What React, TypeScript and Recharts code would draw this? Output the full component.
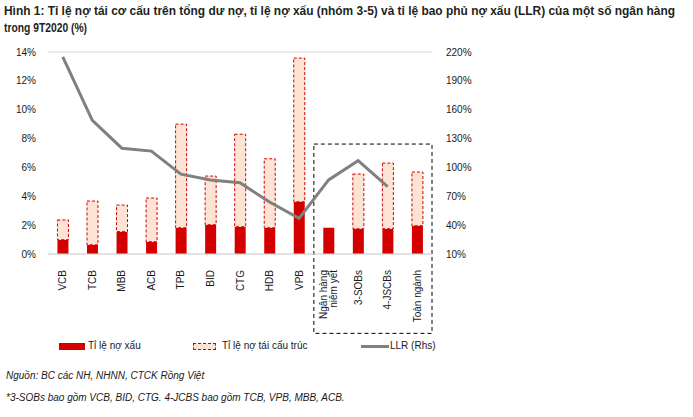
import React from "react";
import {
  ComposedChart,
  Bar,
  Line,
  XAxis,
  YAxis,
  CartesianGrid,
  ReferenceArea,
} from "recharts";

const banks = [
  "VCB", "TCB", "MBB", "ACB", "TPB", "BID", "CTG", "HDB", "VPB",
  "Ngân hàng\nniêm yết", "3-SOBs", "4-JSCBs", "Toàn ngành",
];
// tỉ lệ nợ xấu (%)
const nplRatio = [0.99, 0.64, 1.55, 0.85, 1.82, 2.03, 1.89, 1.82, 3.62, 1.82, 1.75, 1.75, 1.96];
// tỉ lệ nợ tái cấu trúc, phần chồng lên nợ xấu (%)
const restructuredRatio = [1.37, 3.03, 1.84, 3.03, 7.18, 3.37, 6.41, 4.78, 9.96, 0, 3.79, 4.55, 3.72];
// LLR (%), trục phải
const llr = [215, 149, 120, 117, 93, 87, 84, 64, 47, 87, 107, 80, null];

const leftTicks = [0, 2, 4, 6, 8, 10, 12, 14];
const rightTicks = [10, 40, 70, 100, 130, 160, 190, 220];

const chartData = banks.map((name, i) => ({
  name,
  npl: nplRatio[i],
  restructured: restructuredRatio[i],
  llr: llr[i],
}));

const FONT = "'Liberation Sans', Arial, sans-serif";

const BankTick = (props: any) => {
  const { x, y, payload } = props;
  const lines: string[] = String(payload.value).split("\n");
  const lineH = 10;
  const start = -((lines.length - 1) * lineH) / 2;
  return (
    <g transform={`translate(${x},${y + 8}) rotate(-90)`}>
      {lines.map((l, i) => (
        <text
          key={i}
          x={0}
          y={start + i * lineH}
          dy="0.35em"
          textAnchor="end"
          fontSize={10}
          fontFamily={FONT}
          fill="#1a1a1a"
        >
          {l}
        </text>
      ))}
    </g>
  );
};

export default function App() {
  return (
    <div style={{ position: "relative", width: 693, height: 417, background: "#fff", fontFamily: FONT }}>
      <style>{`body{margin:0}`}</style>
      <svg width={693} height={40} style={{ position: "absolute", left: 0, top: 0 }}>
        <text
          x={4}
          y={15}
          textLength={671}
          lengthAdjust="spacingAndGlyphs"
          fontFamily={FONT}
          fontWeight="bold"
          fontSize={12}
          fill="#231f20"
        >
          Hình 1: Tỉ lệ nợ tái cơ cấu trên tổng dư nợ, tỉ lệ nợ xấu (nhóm 3-5) và tỉ lệ bao phủ nợ xấu (LLR) của một số ngân hàng
        </text>
        <text
          x={4}
          y={32}
          textLength={83}
          lengthAdjust="spacingAndGlyphs"
          fontFamily={FONT}
          fontWeight="bold"
          fontSize={12}
          fill="#231f20"
        >
          trong 9T2020 (%)
        </text>
      </svg>

      <div style={{ position: "absolute", left: 0, top: 0 }}>
        <ComposedChart
          width={693}
          height={340}
          data={chartData}
          margin={{ top: 52, right: 221, bottom: 0, left: 0 }}
          barCategoryGap="32%"
        >
          <CartesianGrid vertical={false} stroke="#d9d9d9" />
          <XAxis
            dataKey="name"
            interval={0}
            height={86}
            axisLine={{ stroke: "#d9d9d9" }}
            tickLine={false}
            tick={<BankTick />}
          />
          <YAxis
            yAxisId="left"
            domain={[0, 14]}
            ticks={leftTicks}
            width={48}
            axisLine={false}
            tickLine={false}
            tickFormatter={(v) => `${v}%`}
            tick={{ fontSize: 10, fill: "#1a1a1a", fontFamily: FONT }}
            tickMargin={6}
          />
          <YAxis
            yAxisId="right"
            orientation="right"
            domain={[10, 220]}
            ticks={rightTicks}
            width={40}
            axisLine={false}
            tickLine={false}
            tickFormatter={(v) => `${v}%`}
            tick={{ fontSize: 10, fill: "#1a1a1a", fontFamily: FONT }}
            tickMargin={8}
          />
          <Bar yAxisId="left" dataKey="npl" stackId="a" fill="#d40000" isAnimationActive={false} />
          <Bar
            yAxisId="left"
            dataKey="restructured"
            stackId="a"
            fill="#fde3d4"
            stroke="#d40000"
            strokeWidth={1}
            strokeDasharray="3 2"
            isAnimationActive={false}
          />
          <Line
            yAxisId="right"
            type="linear"
            dataKey="llr"
            stroke="#808080"
            strokeWidth={3}
            dot={false}
            isAnimationActive={false}
          />
          <ReferenceArea
            yAxisId="left"
            x1={banks[9]}
            x2={banks[12]}
            y1={-5.5}
            y2={7.62}
            ifOverflow="visible"
            fill="none"
            fillOpacity={0}
            stroke="#000"
            strokeWidth={1}
            strokeDasharray="4 3"
          />
        </ComposedChart>
      </div>

      {/* chú thích */}
      <div style={{ position: "absolute", left: 59, top: 343, width: 26, height: 7, background: "#d40000" }} />
      <div style={{ position: "absolute", left: 88, top: 339, fontSize: 10, lineHeight: "14px", color: "#1a1a1a" }}>
        Tỉ lệ nợ xấu
      </div>
      <div
        style={{
          position: "absolute",
          left: 193,
          top: 343,
          width: 21,
          height: 5,
          background: "#fde3d4",
          border: "1px dashed #d40000",
        }}
      />
      <div style={{ position: "absolute", left: 222, top: 339, fontSize: 10, lineHeight: "14px", color: "#1a1a1a" }}>
        Tỉ lệ nợ tái cấu trúc
      </div>
      <div style={{ position: "absolute", left: 361, top: 345, width: 28, height: 3, background: "#808080" }} />
      <div style={{ position: "absolute", left: 390, top: 339, fontSize: 10, lineHeight: "14px", color: "#1a1a1a" }}>
        LLR (Rhs)
      </div>

      <div
        style={{
          position: "absolute",
          left: 6,
          top: 369,
          fontSize: 10,
          fontStyle: "italic",
          lineHeight: "14px",
          color: "#1a1a1a",
        }}
      >
        Nguồn: BC các NH, NHNN, CTCK Rồng Việt
      </div>
      <div
        style={{
          position: "absolute",
          left: 6,
          top: 391,
          fontSize: 10,
          fontStyle: "italic",
          lineHeight: "14px",
          color: "#1a1a1a",
        }}
      >
        *3-SOBs bao gồm VCB, BID, CTG. 4-JCBS bao gồm TCB, VPB, MBB, ACB.
      </div>
    </div>
  );
}
